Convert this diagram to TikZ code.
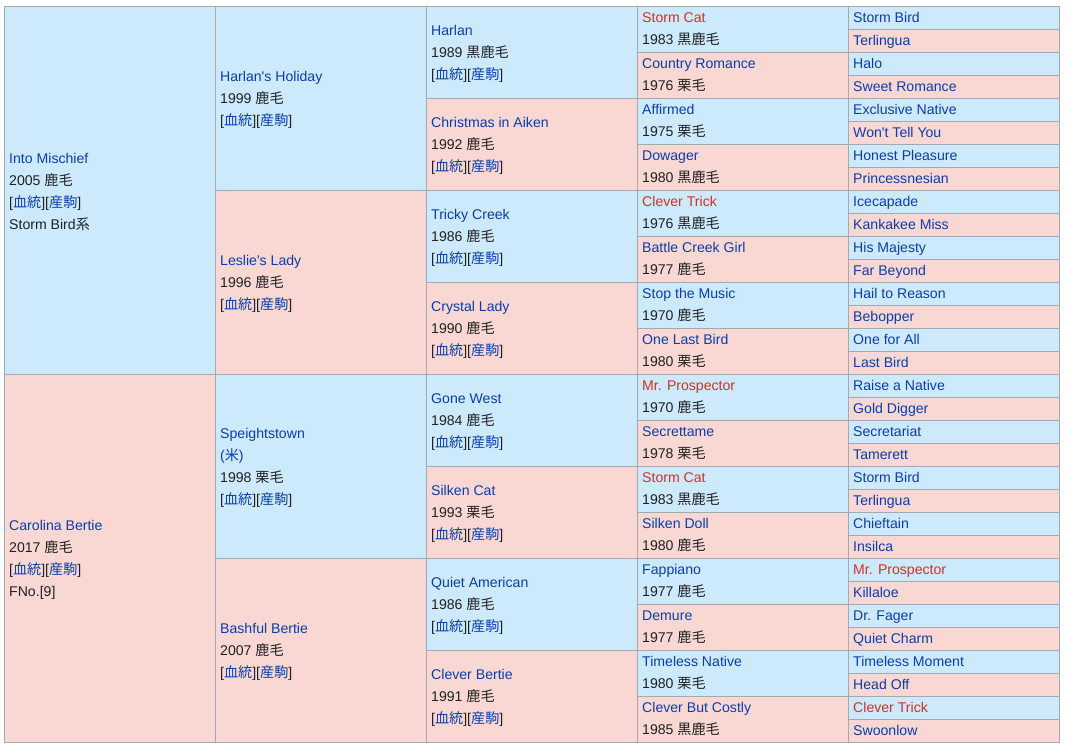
\documentclass[tikz,border=0pt]{standalone}
\usepackage{fontspec}
\setmainfont{Liberation Sans}[Ligatures=TeXOff]
\newfontfamily\cjk{Noto Sans CJK JP}
\definecolor{cblue}{HTML}{CDEAFC}
\definecolor{cpink}{HTML}{F9D7D3}
\definecolor{lnkc}{HTML}{0B3DAA}
\definecolor{redc}{HTML}{D22F27}
\definecolor{txtc}{HTML}{202122}
\definecolor{gridc}{HTML}{A2A9B1}
\newcommand\hn[1]{\textcolor{lnkc}{#1}}
\newcommand\hr[1]{\textcolor{redc}{#1}}
\newcommand\yrc[2]{#1 {\cjk #2}}
\newcommand\links{[\textcolor{lnkc}{\cjk 血統}][\textcolor{lnkc}{\cjk 産駒}]}
\tikzset{
  male/.style={fill=cblue,draw=gridc,line width=1pt},
  female/.style={fill=cpink,draw=gridc,line width=1pt},
  celltext/.style={anchor=west,align=left,inner sep=0pt,text=txtc,
    font=\fontsize{14.1}{22}\selectfont},
  onetext/.style={anchor=base west,inner sep=0pt,text=txtc,
    font=\fontsize{14.1}{22}\selectfont}
}
\newcommand\pcell[6]{%
  \pgfmathsetmacro\cxa{4+211*#2}%
  \pgfmathsetmacro\cxb{\cxa+211}%
  \pgfmathsetmacro\cya{-6-23*#3}%
  \pgfmathsetmacro\cyb{\cya-23*#4}%
  \pgfmathsetmacro\cyc{(\cya+\cyb)/2}%
  \ifnum#4=2 \def\cshift{0pt}\else\def\cshift{-1.6pt}\fi
  \path[#5] (\cxa pt,\cya pt) rectangle (\cxb pt,\cyb pt);
  \ifnum#4=1
    \node[onetext] (#1) at (\cxa pt+5pt,\cyc pt-5.2pt) {#6};%
  \else
    \node[celltext,yshift=\cshift] (#1) at (\cxa pt+5pt,\cyc pt) {#6};%
  \fi
}
\begin{document}
\begin{tikzpicture}
\useasboundingbox (0,0) rectangle (1066pt,-747pt);
% generation 1
\pcell{g1a}{0}{0}{16}{male}{\hn{Into Mischief}\\\yrc{2005}{鹿毛}\\\links\\Storm Bird{\cjk 系}}
\pcell{g1b}{0}{16}{16}{female}{\hn{Carolina Bertie}\\\yrc{2017}{鹿毛}\\\links\\FNo.[9]}
% generation 2
\pcell{g2a}{1}{0}{8}{male}{\hn{Harlan's Holiday}\\\yrc{1999}{鹿毛}\\\links}
\pcell{g2b}{1}{8}{8}{female}{\hn{Leslie's Lady}\\\yrc{1996}{鹿毛}\\\links}
\pcell{g2c}{1}{16}{8}{male}{\hn{Speightstown}\\\hn{({\cjk 米})}\\\yrc{1998}{栗毛}\\\links}
\pcell{g2d}{1}{24}{8}{female}{\hn{Bashful Bertie}\\\yrc{2007}{鹿毛}\\\links}
% generation 3
\pcell{g3a}{2}{0}{4}{male}{\hn{Harlan}\\\yrc{1989}{黒鹿毛}\\\links}
\pcell{g3b}{2}{4}{4}{female}{\hn{Christmas in Aiken}\\\yrc{1992}{鹿毛}\\\links}
\pcell{g3c}{2}{8}{4}{male}{\hn{Tricky Creek}\\\yrc{1986}{鹿毛}\\\links}
\pcell{g3d}{2}{12}{4}{female}{\hn{Crystal Lady}\\\yrc{1990}{鹿毛}\\\links}
\pcell{g3e}{2}{16}{4}{male}{\hn{Gone West}\\\yrc{1984}{鹿毛}\\\links}
\pcell{g3f}{2}{20}{4}{female}{\hn{Silken Cat}\\\yrc{1993}{栗毛}\\\links}
\pcell{g3g}{2}{24}{4}{male}{\hn{Quiet American}\\\yrc{1986}{鹿毛}\\\links}
\pcell{g3h}{2}{28}{4}{female}{\hn{Clever Bertie}\\\yrc{1991}{鹿毛}\\\links}
% generation 4
\pcell{g4a}{3}{0}{2}{male}{\hr{Storm Cat}\\\yrc{1983}{黒鹿毛}}
\pcell{g4b}{3}{2}{2}{female}{\hn{Country Romance}\\\yrc{1976}{栗毛}}
\pcell{g4c}{3}{4}{2}{male}{\hn{Affirmed}\\\yrc{1975}{栗毛}}
\pcell{g4d}{3}{6}{2}{female}{\hn{Dowager}\\\yrc{1980}{黒鹿毛}}
\pcell{g4e}{3}{8}{2}{male}{\hr{Clever Trick}\\\yrc{1976}{黒鹿毛}}
\pcell{g4f}{3}{10}{2}{female}{\hn{Battle Creek Girl}\\\yrc{1977}{鹿毛}}
\pcell{g4g}{3}{12}{2}{male}{\hn{Stop the Music}\\\yrc{1970}{鹿毛}}
\pcell{g4h}{3}{14}{2}{female}{\hn{One Last Bird}\\\yrc{1980}{栗毛}}
\pcell{g4i}{3}{16}{2}{male}{\hr{Mr. Prospector}\\\yrc{1970}{鹿毛}}
\pcell{g4j}{3}{18}{2}{female}{\hn{Secrettame}\\\yrc{1978}{栗毛}}
\pcell{g4k}{3}{20}{2}{male}{\hr{Storm Cat}\\\yrc{1983}{黒鹿毛}}
\pcell{g4l}{3}{22}{2}{female}{\hn{Silken Doll}\\\yrc{1980}{鹿毛}}
\pcell{g4m}{3}{24}{2}{male}{\hn{Fappiano}\\\yrc{1977}{鹿毛}}
\pcell{g4n}{3}{26}{2}{female}{\hn{Demure}\\\yrc{1977}{鹿毛}}
\pcell{g4o}{3}{28}{2}{male}{\hn{Timeless Native}\\\yrc{1980}{栗毛}}
\pcell{g4p}{3}{30}{2}{female}{\hn{Clever But Costly}\\\yrc{1985}{黒鹿毛}}
% generation 5
\pcell{g5a}{4}{0}{1}{male}{\hn{Storm Bird}}
\pcell{g5b}{4}{1}{1}{female}{\hn{Terlingua}}
\pcell{g5c}{4}{2}{1}{male}{\hn{Halo}}
\pcell{g5d}{4}{3}{1}{female}{\hn{Sweet Romance}}
\pcell{g5e}{4}{4}{1}{male}{\hn{Exclusive Native}}
\pcell{g5f}{4}{5}{1}{female}{\hn{Won't Tell You}}
\pcell{g5g}{4}{6}{1}{male}{\hn{Honest Pleasure}}
\pcell{g5h}{4}{7}{1}{female}{\hn{Princessnesian}}
\pcell{g5i}{4}{8}{1}{male}{\hn{Icecapade}}
\pcell{g5j}{4}{9}{1}{female}{\hn{Kankakee Miss}}
\pcell{g5k}{4}{10}{1}{male}{\hn{His Majesty}}
\pcell{g5l}{4}{11}{1}{female}{\hn{Far Beyond}}
\pcell{g5m}{4}{12}{1}{male}{\hn{Hail to Reason}}
\pcell{g5n}{4}{13}{1}{female}{\hn{Bebopper}}
\pcell{g5o}{4}{14}{1}{male}{\hn{One for All}}
\pcell{g5p}{4}{15}{1}{female}{\hn{Last Bird}}
\pcell{g5q}{4}{16}{1}{male}{\hn{Raise a Native}}
\pcell{g5r}{4}{17}{1}{female}{\hn{Gold Digger}}
\pcell{g5s}{4}{18}{1}{male}{\hn{Secretariat}}
\pcell{g5t}{4}{19}{1}{female}{\hn{Tamerett}}
\pcell{g5u}{4}{20}{1}{male}{\hn{Storm Bird}}
\pcell{g5v}{4}{21}{1}{female}{\hn{Terlingua}}
\pcell{g5w}{4}{22}{1}{male}{\hn{Chieftain}}
\pcell{g5x}{4}{23}{1}{female}{\hn{Insilca}}
\pcell{g5y}{4}{24}{1}{male}{\hr{Mr. Prospector}}
\pcell{g5z}{4}{25}{1}{female}{\hn{Killaloe}}
\pcell{g5aa}{4}{26}{1}{male}{\hn{Dr. Fager}}
\pcell{g5ab}{4}{27}{1}{female}{\hn{Quiet Charm}}
\pcell{g5ac}{4}{28}{1}{male}{\hn{Timeless Moment}}
\pcell{g5ad}{4}{29}{1}{female}{\hn{Head Off}}
\pcell{g5ae}{4}{30}{1}{male}{\hr{Clever Trick}}
\pcell{g5af}{4}{31}{1}{female}{\hn{Swoonlow}}
\end{tikzpicture}
\end{document}
